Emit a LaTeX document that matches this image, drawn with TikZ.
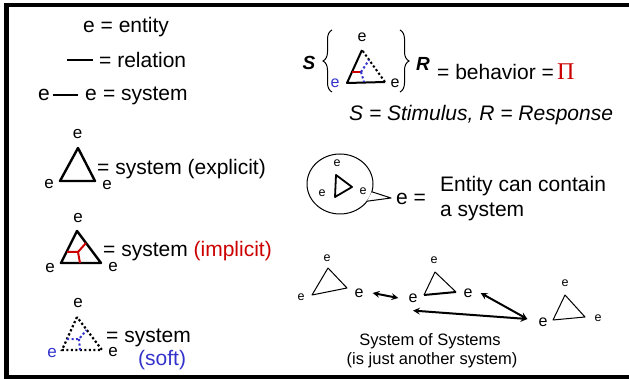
\documentclass[tikz,border=0pt]{standalone}
\usepackage{fontspec}
\setmainfont{Liberation Sans}
\newfontfamily\pifont{Liberation Serif}
\usepackage{tikz}
\usetikzlibrary{arrows, positioning, decorations.pathreplacing}
\definecolor{implred}{RGB}{204,0,0}
\definecolor{softblue}{RGB}{51,51,204}

\begin{document}
\begin{tikzpicture}[x=1pt, y=-1pt]
\tikzstyle{txt} = [inner sep=0pt, font=\fontsize{21}{25}\selectfont]
\tikzstyle{sostxt} = [inner sep=0pt, font=\fontsize{16.5}{19}\selectfont]
\tikzstyle{ve} = [inner sep=0pt, font=\fontsize{17}{20}\selectfont]
\tikzstyle{me} = [inner sep=0pt, font=\fontsize{16}{19}\selectfont]
\tikzstyle{se} = [inner sep=0pt, font=\fontsize{12.5}{15}\selectfont]
\tikzstyle{sr} = [inner sep=0pt, font=\fontsize{19}{22}\selectfont\bfseries\itshape]
\tikzstyle{edge} = [line width=2.4pt, line join=round]
\tikzstyle{thinedge} = [line width=1pt, line join=round]
\tikzstyle{dots} = [line width=2.2pt, dash pattern=on 2.2pt off 2.3pt]
\tikzstyle{brace} = [line width=1pt, decorate, decoration={brace, amplitude=9pt}]
\tikzstyle{arrow} = [line width=2pt, <->, >=stealth]

\useasboundingbox (0,0) rectangle (629,379);

% Frame
\draw[line width=4.5pt] (629,5) -- (6.5,5) -- (6.5,377) -- (629,377);

% Legend
\node (ent) [txt, anchor=base west] at (83,33) {e = entity};
\coordinate (relA) at (67,60);
\coordinate (relB) at (93,60);
\draw[line width=2pt] (relA) -- (relB);
\node (rel) [txt, anchor=base west] at (99,68) {= relation};
\node (eA) [txt, anchor=base west] at (38,101) {e};
\node (eB) [txt, anchor=base west] at (85,101) {e};
\node (sys) [txt, base right=5.8pt of eB] {= system};
\draw[line width=2pt, shorten <=3pt, shorten >=7pt] (eA) -- (eB);

% Explicit system
\coordinate (xa) at (78,148);
\coordinate (xb) at (60,181);
\coordinate (xc) at (95,181);
\draw[edge] (xa) -- (xb) -- (xc) -- cycle;
\node (xt) [ve] at (77.5,134) {e};
\node (xl) [ve] at (49,184) {e};
\node (xr) [ve] at (107,185) {e};
\node (xs) [txt, anchor=base west] at (97,175) {= system (explicit)};

% Implicit system
\coordinate (ia) at (77,231);
\coordinate (ib) at (61,263);
\coordinate (ic) at (101,263);
\coordinate (ij) at (78,252);
\draw[edge] (ia) -- (ib) -- (ic) -- cycle;
\draw[line width=2pt, implred] (67,252) -- (ij) -- (86,243);
\draw[line width=2pt, implred] (ij) -- (80,263);
\node (it) [ve] at (78,218) {e};
\node (il) [ve] at (50,268) {e};
\node (ir) [ve] at (113,267) {e};
\node (is) [txt, anchor=base west] at (103,257) {= system \textcolor{implred}{(implicit)}};

% Soft system
\coordinate (sa) at (77,317);
\coordinate (sb) at (62,350);
\coordinate (sc) at (102,350);
\coordinate (sj) at (79,339);
\draw[dots] (sa) -- (sb) -- (sc) -- cycle;
\draw[dots, softblue, line width=2pt] (67,339) -- (sj) -- (86.5,330);
\draw[dots, softblue, line width=2pt] (sj) -- (80,350);
\node (st) [ve] at (78,303) {e};
\node (sl) [ve, text=softblue] at (52,353) {e};
\node (sr) [ve] at (113,352) {e};
\node (ss) [txt, anchor=base west] at (106,342) {= system};
\node (sft) [txt, anchor=base west, text=softblue] at (138,365) {(soft)};

% Behavior
\node (stim) [sr] at (309,63) {S};
\draw[brace] (332,92) -- (332,30);
\draw[brace] (400,30) -- (400,92);
\coordinate (ba) at (362,50);
\coordinate (bb) at (347,83);
\coordinate (bc) at (385,82);
\coordinate (bj) at (361,72);
\draw[edge, line width=2pt] (ba) -- (bb) -- (bc);
\draw[dots, line width=2pt] (bc) -- (ba);
\draw[line width=2pt, implred] (352,72) -- (bj);
\draw[dots, softblue, line width=2pt] (bj) -- (369,60);
\draw[dots, softblue, line width=2pt] (bj) -- (364,82);
\node (bt) [me] at (362,37) {e};
\node (bl) [me, text=softblue] at (335,83) {e};
\node (br) [me] at (395,83) {e};
\node (resp) [sr] at (423,64) {R};
\node (beh) [txt, anchor=base west] at (437,80) {= behavior =};
\node (pi) [inner sep=0pt, anchor=base west, text=implred, font=\fontsize{24}{28}\pifont] at (557,80) {Π};
\node (sdef) [txt, anchor=base west, font=\fontsize{21}{25}\selectfont\itshape] at (349,121) {S = Stimulus, R = Response};

% Entity containing a system
\draw[line width=1pt] (340,184) ellipse [x radius=33, y radius=30];
\coordinate (tu) at (371.9,191.8);
\coordinate (tl) at (367,201.2);
\coordinate (tip) at (391,198);
\fill[white] (tu) -- (tip) -- (tl) -- cycle;
\draw[line width=1pt, line join=round] (tu) -- (tip) -- (tl);
\coordinate (ca) at (336,175);
\coordinate (cb) at (335,197);
\coordinate (cc) at (352,187);
\draw[line width=1.8pt, line join=round] (ca) -- (cb) -- (cc) -- cycle;
\node (ct) [se] at (337,163) {e};
\node (cl) [se] at (322,193) {e};
\node (cr) [se] at (363,191) {e};
\node (ce) [txt, anchor=base west] at (396,205) {e =};
\node (cap1) [txt, anchor=base west] at (440,192) {Entity can contain};
\node (cap2) [txt, anchor=base west] at (440,217) {a system};

% System of systems
\coordinate (pa) at (328,268);
\coordinate (pb) at (312,295);
\coordinate (pc) at (347,288);
\draw[thinedge] (pa) -- (pb) -- (pc) -- cycle;
\node (sosAt) [se] at (327,258) {e};
\node (sosAl) [se] at (301,297) {e};
\node (sosAr) [me] at (359,293) {e};

\coordinate (qa) at (435,272);
\coordinate (qb) at (424,295);
\coordinate (qc) at (456,292);
\draw[thinedge] (qb) -- (qa) -- (qc);
\draw[line width=2pt] (qb) -- (qc);
\node (sosBt) [se] at (434,260) {e};
\node (sosBl) [me] at (413,298) {e};
\node (sosBr) [me] at (468,293) {e};

\coordinate (ra) at (565,295);
\coordinate (rb) at (553,320);
\coordinate (rc) at (585,317);
\draw[thinedge] (ra) -- (rb) -- (rc) -- cycle;
\node (sosCt) [se] at (565,283) {e};
\node (sosCr) [se] at (598,318) {e};
\node (sosCl) [me] at (543,322) {e};

\draw[arrow] ([xshift=9pt]sosAr.east) -- ([xshift=-10pt]sosBl.west);
\draw[arrow] ([xshift=8pt]sosBr.east) -- ([xshift=-11pt, yshift=3pt]sosCl.west);
\draw[arrow] ([yshift=-8pt]sosBl.south) -- ([xshift=-11pt, yshift=3pt]sosCl.west);

\node (sos1) [sostxt] at (430,341) {System of Systems};
\node (sos2) [sostxt] at (432,360) {(is just another system)};

\end{tikzpicture}
\end{document}
